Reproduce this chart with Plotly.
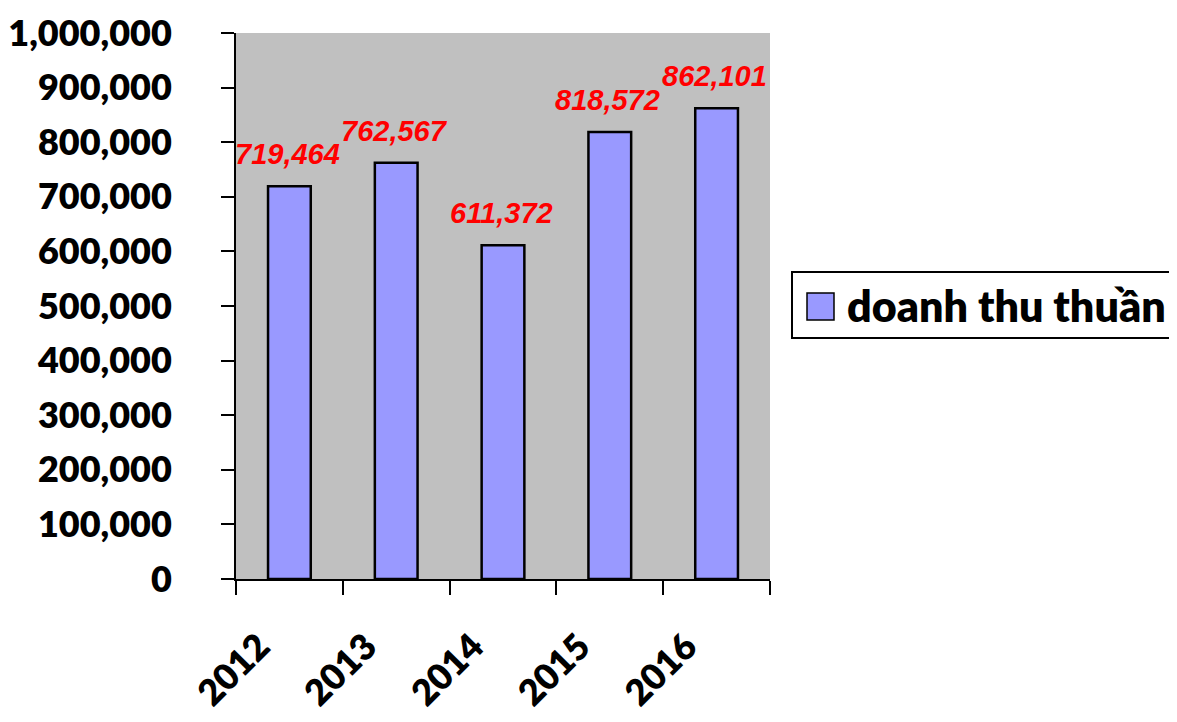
import plotly.graph_objects as go

# data
years = ["2012", "2013", "2014", "2015", "2016"]
revenue = [719464, 762567, 611372, 818572, 862101]
series_name = "doanh thu thuần"
y_ticks = list(range(0, 1000001, 100000))

# page has an 8px body margin, so the figure is shrunk to fit the window
OFF = 8
W, H = 1177 - 2 * OFF, 722 - 2 * OFF
plot_x0, plot_x1, plot_y0, plot_y1 = 236, 770, 33, 579   # screen px
L, T = plot_x0 - OFF, plot_y0 - OFF
pw, ph = plot_x1 - plot_x0, plot_y1 - plot_y0
R, B = W - L - pw, H - T - ph


def to_px(x):
    return (x - plot_x0) / pw


def to_py(y):
    return (plot_y1 - y) / ph


xs = list(range(len(years)))
bounds = [i - 0.5 for i in range(len(years) + 1)]

fig = go.Figure()

fig.add_trace(go.Bar(
    x=xs,
    y=revenue,
    name=series_name,
    width=0.4,
    marker=dict(color="#9999FF", line=dict(color="black", width=2.5)),
    showlegend=False,
))

# red data labels above each bar
label_font = dict(family="Liberation Sans, Arial", size=29, color="#FF0000",
                  weight="bold", style="italic")
for i, v in zip(xs, revenue):
    fig.add_annotation(x=i, y=v, text=f"{v:,}", showarrow=False,
                       yanchor="bottom", yshift=14, xshift=-2, font=label_font)

# hand-made legend box (Excel style, large swatch)
fig.add_shape(type="rect", xref="paper", yref="paper",
              x0=to_px(792), x1=to_px(1210), y0=to_py(338), y1=to_py(272),
              line=dict(color="black", width=2), fillcolor="white")
fig.add_shape(type="rect", xref="paper", yref="paper",
              x0=to_px(807), x1=to_px(834), y0=to_py(320), y1=to_py(293),
              line=dict(color="black", width=1.5), fillcolor="#9999FF")
fig.add_annotation(xref="paper", yref="paper", x=to_px(845), y=to_py(305),
                   xanchor="left", yanchor="middle", showarrow=False,
                   text=series_name,
                   font=dict(family="Lato", size=43, color="black", weight=800))

fig.update_layout(
    width=W, height=H,
    margin=dict(l=L, r=R, t=T, b=B),
    plot_bgcolor="#C0C0C0",
    paper_bgcolor="white",
)
fig.update_xaxes(
    range=[-0.5, len(years) - 0.5],
    tickvals=xs, ticktext=years,
    showline=True, linecolor="black", linewidth=2,
    ticks="", tickangle=-45,
    tickfont=dict(family="Lato", size=36, color="black", weight=800),
    ticklabelstandoff=30, ticklabelshift=-30,
    minor=dict(tickvals=bounds, ticks="outside", ticklen=14, tickwidth=2, tickcolor="black"),
    showgrid=False, zeroline=False, automargin=False,
)
fig.update_yaxes(
    range=[0, 1000000],
    tickvals=y_ticks, tickformat=",",
    showline=True, linecolor="black", linewidth=2,
    ticks="outside", ticklen=13, tickwidth=2, tickcolor="black",
    tickfont=dict(family="Lato", size=36, color="black", weight=800),
    ticklabelstandoff=42,
    showgrid=False, zeroline=False, automargin=False,
)

fig.write_html("out.html")
